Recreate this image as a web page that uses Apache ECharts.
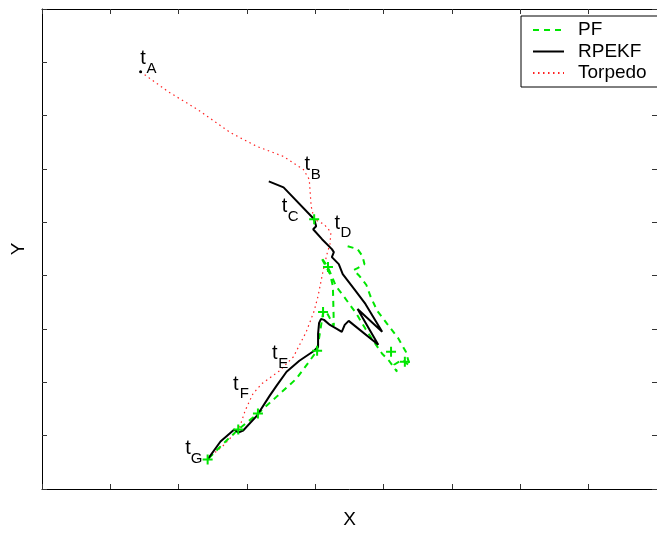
<!DOCTYPE html>
<html>
<head>
<meta charset="utf-8">
<script src="https://cdn.jsdelivr.net/npm/echarts@6/dist/echarts.min.js"></script>
<style>
  html, body { margin: 0; padding: 0; background: #fff; }
  #chart { width: 657px; height: 534px; }
</style>
</head>
<body>
<div id="chart"></div>
<script>
// Torpedo track (true trajectory), in axis units
const torpedoX = [1.443, 1.847, 2.280, 2.756, 3.146, 3.535, 3.824, 3.911, 3.939, 3.983, 4.127, 4.228, 4.214, 4.170, 4.113, 4.040, 3.983, 3.867, 3.680, 3.478, 3.218, 3.088, 2.973, 2.886, 2.641, 2.424];
const torpedoY = [7.823, 7.450, 7.113, 6.683, 6.422, 6.235, 5.992, 5.805, 5.301, 5.058, 4.965, 4.815, 4.591, 4.404, 4.086, 3.619, 3.339, 2.947, 2.479, 2.218, 1.975, 1.788, 1.470, 1.134, 0.798, 0.574];

// RPEKF estimate
const rpekfX = [3.319, 3.535, 3.983, 4.012, 3.968, 4.098, 4.242, 4.271, 4.242, 4.343, 4.401, 4.589, 4.733, 4.978, 4.618, 4.921, 4.488, 4.430, 4.387, 4.315, 4.214, 4.127, 4.084, 4.055, 4.040, 4.040, 3.983, 3.766, 3.579, 3.434, 3.333, 3.146, 2.944, 2.872, 2.814, 2.612, 2.424];
const rpekfY = [5.768, 5.656, 5.058, 4.927, 4.871, 4.684, 4.497, 4.441, 4.348, 4.217, 4.030, 3.713, 3.470, 2.947, 3.376, 2.704, 3.152, 3.077, 2.947, 3.003, 3.077, 3.171, 3.189, 3.115, 2.909, 2.666, 2.592, 2.405, 2.199, 1.938, 1.751, 1.377, 1.097, 1.059, 1.115, 0.891, 0.555];

// PF estimate
const pfX = [4.473, 4.618, 4.690, 4.719, 4.618, 4.560, 4.646, 4.747, 4.805, 4.906, 5.051, 5.209, 5.325, 5.382, 5.267, 5.152, 5.195, 5.079, 4.978, 4.848, 4.733, 4.603, 4.444, 4.300, 4.185, 4.084, 4.214, 4.257, 4.271, 4.156, 4.113, 4.026, 3.723, 3.434, 3.160, 2.872, 2.655, 2.424];
const pfY = [4.553, 4.497, 4.367, 4.217, 4.142, 4.105, 3.993, 3.825, 3.619, 3.339, 3.096, 2.834, 2.573, 2.311, 2.423, 2.330, 2.199, 2.405, 2.536, 2.778, 3.003, 3.283, 3.563, 3.806, 4.161, 4.348, 4.030, 3.806, 3.059, 3.339, 3.302, 2.592, 2.068, 1.732, 1.414, 1.115, 0.854, 0.555];

// PF samples marked with crosses
const pfMarkX = [3.983, 4.185, 4.113, 4.026, 3.160, 2.872, 2.424, 5.108, 5.310];
const pfMarkY = [5.058, 4.161, 3.320, 2.592, 1.414, 1.115, 0.555, 2.573, 2.386];

// Time labels t_A ... t_G
const timeNames = ['A', 'B', 'C', 'D', 'E', 'F', 'G'];
const timeX = [1.479, 3.882, 3.550, 4.322, 3.405, 2.835, 2.136];
const timeY = [8.070, 6.086, 5.291, 4.983, 2.536, 1.966, 0.751];

const legendNames = ['PF', 'RPEKF', 'Torpedo'];
const axisMin = 0, axisMax = 9, tickStep = 1;

const zip = (xs, ys) => xs.map((x, i) => [x, ys[i]]);
const FONT = 'Liberation Sans, Arial, Helvetica, sans-serif';
const GREEN = '#00e600';

const chart = echarts.init(document.getElementById('chart'), null, { renderer: 'canvas' });

const axisCommon = {
  type: 'value', min: axisMin, max: axisMax, interval: tickStep,
  axisLine: { show: true, onZero: false, lineStyle: { color: '#000', width: 1 } },
  axisTick: { show: true, inside: true, length: 5, lineStyle: { color: '#333', width: 1 } },
  axisLabel: { show: false },
  splitLine: { show: false }
};

const labelText = { fontFamily: FONT, color: '#000', textBorderWidth: 0, textShadowBlur: 0 };

chart.setOption({
  animation: false,
  backgroundColor: '#fff',
  grid: { left: 42, top: 9, width: 623.7, height: 481.7, containLabel: false },
  xAxis: [
    Object.assign({}, axisCommon, {
      position: 'bottom', name: 'X', nameLocation: 'middle', nameGap: 21,
      nameTextStyle: { fontFamily: FONT, fontSize: 19, color: '#000' }
    }),
    Object.assign({}, axisCommon, { position: 'top' })
  ],
  yAxis: [
    Object.assign({}, axisCommon, {
      position: 'left', name: 'Y', nameLocation: 'middle', nameGap: 14,
      nameTextStyle: { fontFamily: FONT, fontSize: 19, color: '#000' }
    }),
    Object.assign({}, axisCommon, { position: 'right' })
  ],
  legend: {
    data: legendNames,
    orient: 'vertical',
    left: 521, top: 16,
    padding: [4, 60, 4, 11],
    itemWidth: 31, itemHeight: 14, itemGap: 1.5,
    itemStyle: { opacity: 0 },
    borderColor: '#000', borderWidth: 1,
    backgroundColor: '#fff',
    textStyle: { fontFamily: FONT, fontSize: 19, color: '#000', lineHeight: 20, padding: [0, 0, 0, 9] }
  },
  series: [
    {
      name: 'Torpedo', type: 'line', data: zip(torpedoX, torpedoY),
      symbol: 'none', smooth: false, z: 2,
      lineStyle: { color: '#ff2020', width: 1.2, type: [1.5, 3.5] },
      itemStyle: { color: '#ff2020' }
    },
    {
      name: 'torpedoStart', type: 'scatter', data: [[torpedoX[0], torpedoY[0]]],
      symbol: 'circle', symbolSize: 3, itemStyle: { color: '#000', opacity: 1 }, z: 3
    },
    {
      name: 'RPEKF', type: 'line', data: zip(rpekfX, rpekfY),
      symbol: 'none', z: 4,
      lineStyle: { color: '#000', width: 2, type: 'solid' },
      itemStyle: { color: '#000' }
    },
    {
      name: 'PF', type: 'line', data: zip(pfX, pfY),
      symbol: 'none', z: 3,
      lineStyle: { color: GREEN, width: 2, type: [6, 5] },
      itemStyle: { color: GREEN }
    },
    {
      name: 'pfMarks', type: 'scatter', data: zip(pfMarkX, pfMarkY),
      symbol: 'path://M4,0h2v4h4v2h-4v4h-2v-4h-4v-2h4z', symbolSize: 10,
      itemStyle: { color: GREEN, opacity: 1 }, z: 5
    },
    {
      name: 'timeT', type: 'scatter', data: zip(timeX, timeY),
      symbolSize: 0, z: 6, silent: true, itemStyle: { opacity: 1 },
      label: Object.assign({ show: true, position: 'inside', formatter: 't', fontSize: 20 }, labelText)
    },
    {
      name: 'timeSub', type: 'scatter', data: zip(timeX, timeY),
      symbolSize: 0, z: 6, silent: true, itemStyle: { opacity: 1 },
      label: Object.assign({
        show: true, position: 'inside', offset: [8.5, 10], fontSize: 15,
        formatter: (p) => timeNames[p.dataIndex]
      }, labelText)
    }
  ]
});
</script>
</body>
</html>
